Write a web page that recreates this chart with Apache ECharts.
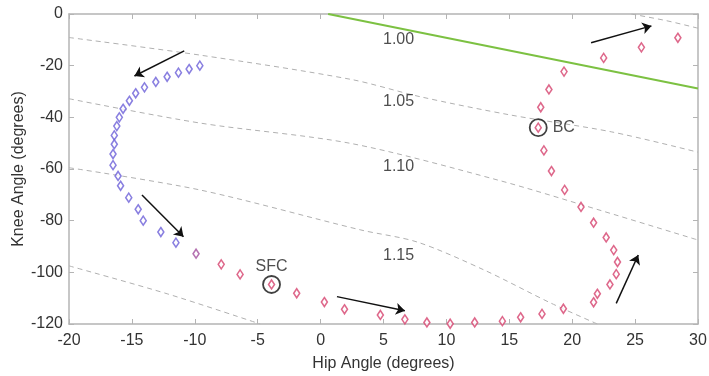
<!DOCTYPE html>
<html>
<head>
<meta charset="utf-8">
<script src="https://cdn.jsdelivr.net/npm/echarts@6/dist/echarts.min.js"></script>
<style>
  html, body { margin: 0; padding: 0; background: #fff; }
  #chart { width: 709px; height: 376px; }
</style>
</head>
<body>
<div id="chart"></div>
<script>
// hip / knee angles (degrees) in the order of motion
var blueHip = [-9.6, -10.45, -11.3, -12.2, -13.1, -14.0, -14.7, -15.2, -15.7, -16.0, -16.2, -16.4, -16.4, -16.5, -16.5, -16.1, -15.9, -15.25, -14.5, -14.1, -12.7, -11.5];
var blueKnee = [-20, -21.3, -22.7, -24.3, -26.3, -28.4, -30.7, -33.6, -36.7, -40, -43.4, -47, -50.4, -54.2, -58.5, -62.7, -66.5, -71.1, -75.6, -80, -84.4, -88.5];
var midHip = [-9.9];
var midKnee = [-92.8];
var redHip = [-7.9, -6.4, -3.9, -1.9, 0.3, 1.9, 4.75, 6.7, 8.45, 10.3, 12.25, 14.45, 15.9, 17.6, 19.3, 21.7, 22.0, 23.0, 23.5, 23.6, 23.3, 22.7, 21.7, 20.7, 19.4, 18.35, 17.75, 17.3, 17.5, 18.15, 19.35, 22.5, 25.5, 28.4];
var redKnee = [-96.9, -100.8, -104.7, -108.1, -111.5, -114.3, -116.5, -118.2, -119.4, -119.9, -119.4, -118.9, -117.4, -116.1, -114.1, -111.6, -108.3, -104.7, -100.7, -96, -91.4, -86.5, -80.8, -74.7, -68.1, -60.8, -52.8, -44, -36.1, -29.2, -22.3, -17, -12.9, -9.2];

// dashed contour lines
var contourA = [[-20, -9.1], [-9.6, -15.9], [2.4, -25.3], [7.9, -32.0], [15.1, -39.1], [23.1, -45.6], [30, -53.5]];
var contourB = [[-20, -32.8], [-9.6, -42.2], [2.4, -50.1], [14.1, -64.3], [22.3, -76.1], [30, -87.5]];
var contourC = [[-20, -59.5], [-9.6, -68.1], [3.2, -83.6], [7.7, -88.3], [13.0, -99.1], [18.3, -111.9], [22.0, -120]];
var contourD = [[-20, -97.5], [-12.2, -108.3], [-4.8, -120]];
var contourE = [[24.7, 0], [27.5, -2.6], [30, -5.5]];
var greenLine = [[0.6, 0], [30, -28.8]];

var contourLabels = ['1.00', '1.05', '1.10', '1.15'];
var contourLabelPos = [[6.2, -10.1], [6.2, -34.1], [6.2, -59.1], [6.2, -93.7]];

// events: SFC, BC
var eventNames = ['SFC', 'BC'];
var eventPos = [[-3.9, -104.7], [17.3, -44]];

// arrows [tail, head]
var arrows = [
  [[-10.84, -14.3], [-14.8, -24]],
  [[-14.2, -70.1], [-10.9, -86.2]],
  [[1.3, -109.4], [6.7, -114.9]],
  [[23.5, -112], [25.25, -93.3]],
  [[21.5, -11.1], [26.3, -4.6]]
];

var xTicks = [-20, 30, 5];
var yTicks = [-120, 0, 20];

function pairs(xs, ys) {
  return xs.map(function (x, i) { return [x, ys[i]]; });
}

var font = 'Arial, "Liberation Sans", sans-serif';
var axisGrey = '#b4b4b4';
var textCol = '#333';

var chart = echarts.init(document.getElementById('chart'));

function dashed(data) {
  return {
    type: 'line', data: data, symbol: 'none', silent: true, smooth: 0.3,
    lineStyle: { color: '#b0b0b0', width: 1, type: [5, 4] },
    z: 1
  };
}

function markers(data, col) {
  return {
    type: 'scatter', data: data, symbol: 'diamond', symbolSize: [6, 9],
    itemStyle: { color: '#fff', borderColor: col, borderWidth: 1.6 },
    z: 5
  };
}

var option = {
  animation: false,
  grid: { left: 69, right: 11, top: 14, bottom: 52, containLabel: false, outerBoundsMode: 'none' },
  xAxis: [{
    type: 'value', min: xTicks[0], max: xTicks[1], interval: xTicks[2],
    name: 'Hip Angle (degrees)', nameLocation: 'middle', nameGap: 32, nameMoveOverlap: false,
    nameTextStyle: { color: textCol, fontSize: 16, fontFamily: font },
    axisLine: { onZero: false, lineStyle: { color: axisGrey, width: 1.5 } },
    axisTick: { inside: true, length: 5, lineStyle: { color: axisGrey } },
    axisLabel: { color: textCol, fontSize: 16, fontFamily: font, margin: 9 },
    splitLine: { show: false }
  }, {
    type: 'value', position: 'top', min: xTicks[0], max: xTicks[1], interval: xTicks[2],
    axisLine: { onZero: false, lineStyle: { color: axisGrey, width: 1.5 } },
    axisTick: { inside: true, length: 5, lineStyle: { color: axisGrey } },
    axisLabel: { show: false },
    splitLine: { show: false }
  }],
  yAxis: [{
    type: 'value', min: yTicks[0], max: yTicks[1], interval: yTicks[2],
    name: 'Knee Angle (degrees)', nameLocation: 'middle', nameGap: 42, nameRotate: 90,
    nameMoveOverlap: false,
    nameTextStyle: { color: textCol, fontSize: 16, fontFamily: font },
    axisLine: { show: true, onZero: false, lineStyle: { color: axisGrey, width: 1.5 } },
    axisTick: { show: true, inside: true, length: 5, lineStyle: { color: axisGrey } },
    axisLabel: { color: textCol, fontSize: 16, fontFamily: font, margin: 6 },
    splitLine: { show: false }
  }, {
    type: 'value', position: 'right', min: yTicks[0], max: yTicks[1], interval: yTicks[2],
    axisLine: { show: true, onZero: false, lineStyle: { color: axisGrey, width: 1.5 } },
    axisTick: { show: true, inside: true, length: 5, lineStyle: { color: axisGrey } },
    axisLabel: { show: false },
    splitLine: { show: false }
  }],
  series: [
    dashed(contourA), dashed(contourB), dashed(contourC), dashed(contourD), dashed(contourE),
    {
      type: 'line', data: greenLine, symbol: 'none', silent: true,
      lineStyle: { color: '#7cc142', width: 2 }, z: 2
    },
    {
      type: 'scatter', symbol: 'circle', symbolSize: 2, silent: true,
      itemStyle: { color: 'rgba(255,255,255,0)' },
      data: contourLabelPos.map(function (p, i) { return { value: p, name: contourLabels[i] }; }),
      label: {
        show: true, position: 'inside', formatter: '{b}',
        color: '#222', fontSize: 16, fontFamily: font
      },
      z: 3
    },
    markers(pairs(blueHip, blueKnee), '#6b5fd8'),
    markers(pairs(midHip, midKnee), '#a24f9e'),
    markers(pairs(redHip, redKnee), '#d6426e'),
    {
      type: 'scatter', symbol: 'circle', symbolSize: 17, silent: true,
      itemStyle: { color: 'rgba(0,0,0,0)', borderColor: '#111', borderWidth: 1.8 },
      data: eventPos.map(function (p, i) {
        return {
          value: p, name: eventNames[i],
          label: i === 0
            ? { show: true, position: 'top', distance: 0 }
            : { show: true, position: 'right', distance: 5 }
        };
      }),
      label: { formatter: '{b}', color: '#222', fontSize: 16, fontFamily: font },
      z: 6
    },
    {
      type: 'lines', coordinateSystem: 'cartesian2d', silent: true,
      symbol: ['none', 'arrow'], symbolSize: 9,
      lineStyle: { color: '#111', width: 1.5, opacity: 1 },
      data: arrows.map(function (a) { return { coords: a }; }),
      z: 7
    }
  ]
};

chart.setOption(option);
</script>
</body>
</html>
